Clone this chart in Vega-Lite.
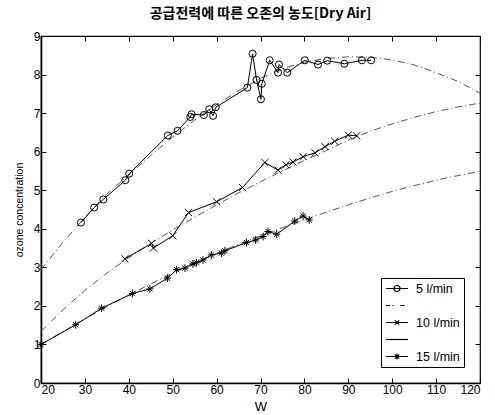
{
  "$schema": "https://vega.github.io/schema/vega-lite/v6.json",
  "autosize": "none",
  "width": 439,
  "height": 347,
  "padding": {"left": 41, "top": 36, "right": 15, "bottom": 32},
  "background": "white",
  "title": {"text": "공급전력에 따른 오존의 농도[Dry Air]", "font": "Noto Sans CJK KR", "fontSize": 14, "fontWeight": "bold", "color": "black", "offset": 9, "anchor": "middle"},
  "datasets": {
    "meas": [
      {"series": "5 l/min", "W": 29.1, "c": 4.16},
      {"series": "5 l/min", "W": 32.1, "c": 4.55},
      {"series": "5 l/min", "W": 34.2, "c": 4.76},
      {"series": "5 l/min", "W": 39.2, "c": 5.26},
      {"series": "5 l/min", "W": 40.1, "c": 5.43},
      {"series": "5 l/min", "W": 48.9, "c": 6.42},
      {"series": "5 l/min", "W": 51.1, "c": 6.54},
      {"series": "5 l/min", "W": 54.0, "c": 6.9},
      {"series": "5 l/min", "W": 54.3, "c": 6.97},
      {"series": "5 l/min", "W": 57.1, "c": 6.95},
      {"series": "5 l/min", "W": 58.3, "c": 7.1},
      {"series": "5 l/min", "W": 59.2, "c": 6.93},
      {"series": "5 l/min", "W": 59.8, "c": 7.15},
      {"series": "5 l/min", "W": 67.0, "c": 7.66},
      {"series": "5 l/min", "W": 68.2, "c": 8.54},
      {"series": "5 l/min", "W": 69.1, "c": 7.86},
      {"series": "5 l/min", "W": 70.1, "c": 7.36},
      {"series": "5 l/min", "W": 70.3, "c": 7.76},
      {"series": "5 l/min", "W": 72.1, "c": 8.37},
      {"series": "5 l/min", "W": 74.0, "c": 8.05},
      {"series": "5 l/min", "W": 74.2, "c": 8.26},
      {"series": "5 l/min", "W": 76.1, "c": 8.05},
      {"series": "5 l/min", "W": 80.1, "c": 8.37},
      {"series": "5 l/min", "W": 83.1, "c": 8.26},
      {"series": "5 l/min", "W": 85.2, "c": 8.36},
      {"series": "5 l/min", "W": 89.1, "c": 8.28},
      {"series": "5 l/min", "W": 93.1, "c": 8.37},
      {"series": "5 l/min", "W": 95.2, "c": 8.37},
      {"series": "10 l/min", "W": 39.1, "c": 3.22},
      {"series": "10 l/min", "W": 45.2, "c": 3.62},
      {"series": "10 l/min", "W": 45.6, "c": 3.5},
      {"series": "10 l/min", "W": 50.0, "c": 3.82},
      {"series": "10 l/min", "W": 53.6, "c": 4.42},
      {"series": "10 l/min", "W": 60.0, "c": 4.7},
      {"series": "10 l/min", "W": 65.9, "c": 5.07},
      {"series": "10 l/min", "W": 71.0, "c": 5.72},
      {"series": "10 l/min", "W": 74.0, "c": 5.52},
      {"series": "10 l/min", "W": 75.8, "c": 5.66},
      {"series": "10 l/min", "W": 77.4, "c": 5.73},
      {"series": "10 l/min", "W": 79.7, "c": 5.87},
      {"series": "10 l/min", "W": 82.4, "c": 5.97},
      {"series": "10 l/min", "W": 84.7, "c": 6.13},
      {"series": "10 l/min", "W": 86.9, "c": 6.27},
      {"series": "10 l/min", "W": 90.0, "c": 6.43},
      {"series": "10 l/min", "W": 91.9, "c": 6.41},
      {"series": "15 l/min", "W": 20.0, "c": 1.0},
      {"series": "15 l/min", "W": 27.9, "c": 1.51},
      {"series": "15 l/min", "W": 33.8, "c": 1.94},
      {"series": "15 l/min", "W": 40.8, "c": 2.32},
      {"series": "15 l/min", "W": 44.8, "c": 2.44},
      {"series": "15 l/min", "W": 48.8, "c": 2.72},
      {"series": "15 l/min", "W": 50.9, "c": 2.94},
      {"series": "15 l/min", "W": 52.8, "c": 2.98},
      {"series": "15 l/min", "W": 54.6, "c": 3.09},
      {"series": "15 l/min", "W": 55.4, "c": 3.12},
      {"series": "15 l/min", "W": 56.9, "c": 3.19},
      {"series": "15 l/min", "W": 58.8, "c": 3.32},
      {"series": "15 l/min", "W": 61.1, "c": 3.37},
      {"series": "15 l/min", "W": 61.9, "c": 3.43},
      {"series": "15 l/min", "W": 66.8, "c": 3.64},
      {"series": "15 l/min", "W": 68.9, "c": 3.71},
      {"series": "15 l/min", "W": 70.6, "c": 3.8},
      {"series": "15 l/min", "W": 71.7, "c": 3.93},
      {"series": "15 l/min", "W": 73.7, "c": 3.86},
      {"series": "15 l/min", "W": 77.8, "c": 4.2},
      {"series": "15 l/min", "W": 79.7, "c": 4.33},
      {"series": "15 l/min", "W": 81.1, "c": 4.23}
    ],
    "fit": [
      {"series": "5 l/min", "W": 20, "c": 2.94}, {"series": "5 l/min", "W": 25, "c": 3.65},
      {"series": "5 l/min", "W": 30, "c": 4.3}, {"series": "5 l/min", "W": 35, "c": 4.9},
      {"series": "5 l/min", "W": 40, "c": 5.4}, {"series": "5 l/min", "W": 45, "c": 5.9},
      {"series": "5 l/min", "W": 50, "c": 6.38}, {"series": "5 l/min", "W": 55, "c": 6.82},
      {"series": "5 l/min", "W": 60, "c": 7.22}, {"series": "5 l/min", "W": 65, "c": 7.58},
      {"series": "5 l/min", "W": 70, "c": 7.9}, {"series": "5 l/min", "W": 75, "c": 8.15},
      {"series": "5 l/min", "W": 80, "c": 8.32}, {"series": "5 l/min", "W": 85, "c": 8.42},
      {"series": "5 l/min", "W": 90, "c": 8.46}, {"series": "5 l/min", "W": 95, "c": 8.45},
      {"series": "5 l/min", "W": 100, "c": 8.38}, {"series": "5 l/min", "W": 105, "c": 8.25},
      {"series": "5 l/min", "W": 110, "c": 8.05}, {"series": "5 l/min", "W": 115, "c": 7.82},
      {"series": "5 l/min", "W": 120, "c": 7.52},
      {"series": "10 l/min", "W": 20, "c": 1.34}, {"series": "10 l/min", "W": 25, "c": 1.9},
      {"series": "10 l/min", "W": 30, "c": 2.4}, {"series": "10 l/min", "W": 35, "c": 2.85},
      {"series": "10 l/min", "W": 40, "c": 3.25}, {"series": "10 l/min", "W": 45, "c": 3.62},
      {"series": "10 l/min", "W": 50, "c": 3.97}, {"series": "10 l/min", "W": 55, "c": 4.3},
      {"series": "10 l/min", "W": 60, "c": 4.62}, {"series": "10 l/min", "W": 65, "c": 4.93},
      {"series": "10 l/min", "W": 70, "c": 5.22}, {"series": "10 l/min", "W": 75, "c": 5.5},
      {"series": "10 l/min", "W": 80, "c": 5.77}, {"series": "10 l/min", "W": 85, "c": 6.03},
      {"series": "10 l/min", "W": 90, "c": 6.3}, {"series": "10 l/min", "W": 95, "c": 6.53},
      {"series": "10 l/min", "W": 100, "c": 6.72}, {"series": "10 l/min", "W": 105, "c": 6.89},
      {"series": "10 l/min", "W": 110, "c": 7.04}, {"series": "10 l/min", "W": 115, "c": 7.16},
      {"series": "10 l/min", "W": 120, "c": 7.26},
      {"series": "15 l/min", "W": 20, "c": 1.0}, {"series": "15 l/min", "W": 25, "c": 1.33},
      {"series": "15 l/min", "W": 30, "c": 1.66}, {"series": "15 l/min", "W": 35, "c": 1.98},
      {"series": "15 l/min", "W": 40, "c": 2.28}, {"series": "15 l/min", "W": 45, "c": 2.57},
      {"series": "15 l/min", "W": 50, "c": 2.85}, {"series": "15 l/min", "W": 55, "c": 3.11},
      {"series": "15 l/min", "W": 60, "c": 3.36}, {"series": "15 l/min", "W": 65, "c": 3.6},
      {"series": "15 l/min", "W": 70, "c": 3.82}, {"series": "15 l/min", "W": 75, "c": 4.03},
      {"series": "15 l/min", "W": 80, "c": 4.23}, {"series": "15 l/min", "W": 85, "c": 4.43},
      {"series": "15 l/min", "W": 90, "c": 4.62}, {"series": "15 l/min", "W": 95, "c": 4.8},
      {"series": "15 l/min", "W": 100, "c": 4.97}, {"series": "15 l/min", "W": 105, "c": 5.12},
      {"series": "15 l/min", "W": 110, "c": 5.26}, {"series": "15 l/min", "W": 115, "c": 5.38},
      {"series": "15 l/min", "W": 120, "c": 5.49}
    ]
  },
  "layer": [
    {
      "data": {"name": "fit"},
      "mark": {"type": "line", "color": "#555555", "strokeWidth": 1, "strokeDash": [7, 3, 1, 3]},
      "encoding": {
        "x": {"field": "W", "type": "quantitative", "scale": {"domain": [20, 120], "nice": false},
          "axis": {"orient": "top", "labels": false, "domain": false, "title": null, "values": [20,30,40,50,60,70,80,90,100,110,120]}},
        "y": {"field": "c", "type": "quantitative", "scale": {"domain": [0, 9], "nice": false},
          "axis": {"orient": "right", "labels": false, "domain": false, "title": null, "values": [0,1,2,3,4,5,6,7,8,9]}},
        "detail": {"field": "series"}
      }
    },
    {
      "data": {"name": "meas"},
      "mark": {"type": "line", "color": "black", "strokeWidth": 1},
      "encoding": {
        "x": {"field": "W", "type": "quantitative", "axis": null},
        "y": {"field": "c", "type": "quantitative", "axis": null},
        "detail": {"field": "series"}
      }
    },
    {
      "data": {"name": "meas"},
      "mark": {"type": "point", "filled": false, "color": "black", "strokeWidth": 1, "size": 50, "opacity": 1},
      "encoding": {
        "x": {"field": "W", "type": "quantitative",
          "axis": {"orient": "bottom", "title": "W", "values": [20,30,40,50,60,70,80,90,100,110,120], "domainWidth": 1.6, "titleFontSize": 13, "titlePadding": 5, "labelPadding": 6}},
        "y": {"field": "c", "type": "quantitative",
          "axis": {"orient": "left", "title": "ozone concentration", "values": [0,1,2,3,4,5,6,7,8,9], "domainWidth": 1.6, "titleFontSize": 10.5, "titlePadding": 9, "labelPadding": 6}},
        "shape": {"field": "series", "type": "nominal", "legend": null,
          "scale": {"domain": ["5 l/min", "10 l/min", "15 l/min"],
            "range": ["circle", "M-1,-1L1,1M-1,1L1,-1", "M-1,0L1,0M0,-1.1L0,1.1M-0.75,-0.75L0.75,0.75M-0.75,0.75L0.75,-0.75"]}}
      }
    },
    {
      "data": {"name": "meas"},
      "mark": {"type": "point", "filled": false, "color": "black", "opacity": 0, "size": 121},
      "encoding": {
        "x": {"field": "W", "type": "quantitative", "axis": null},
        "y": {"field": "c", "type": "quantitative", "axis": null},
        "shape": {"field": "series", "type": "nominal",
          "scale": {"domain": ["5 l/min", "fitA", "10 l/min", "fitB", "15 l/min"],
            "range": [
              "M-1,0L3,0M1.55,0A0.55,0.55 0 1,1 0.45,0A0.55,0.55 0 1,1 1.55,0",
              "M-1,0L-0.3,0M0.2,0L0.4,0M1.6,0L2.4,0",
              "M-1,0L3,0M0.6,-0.4L1.4,0.4M0.6,0.4L1.4,-0.4",
              "M-1,0L3,0",
              "M-1,0L3,0M1,-0.55L1,0.55M0.6,-0.4L1.4,0.4M0.6,0.4L1.4,-0.4"
            ]},
          "legend": {"orient": "none", "legendX": 340, "legendY": 242, "title": null,
            "strokeColor": "black", "fillColor": "white", "padding": 4,
            "symbolSize": 121, "symbolStrokeWidth": 1.2, "symbolStrokeColor": "black",
            "symbolFillColor": "transparent", "symbolOpacity": 1,
            "labelOffset": 18, "rowPadding": 4, "labelFont": "Liberation Sans", "labelFontSize": 12.5,
            "labelColor": "black",
            "labelExpr": "indexof(datum.label, 'fit') == 0 ? '' : datum.label + '\u00a0\u00a0'"}
        }
      }
    }
  ],
  "resolve": {"scale": {"shape": "independent"}, "axis": {"x": "independent", "y": "independent"}, "legend": {"shape": "independent"}},
  "config": {
    "view": {"stroke": "black", "strokeWidth": 1.2},
    "axis": {"grid": false, "tickSize": -5, "tickColor": "black", "domainColor": "black", "labelColor": "black",
      "labelFont": "Liberation Sans", "labelFontSize": 12, "titleFont": "Liberation Sans", "titleFontWeight": "normal",
      "titleColor": "black", "labelPadding": 4, "labelAngle": 0}
  }
}
